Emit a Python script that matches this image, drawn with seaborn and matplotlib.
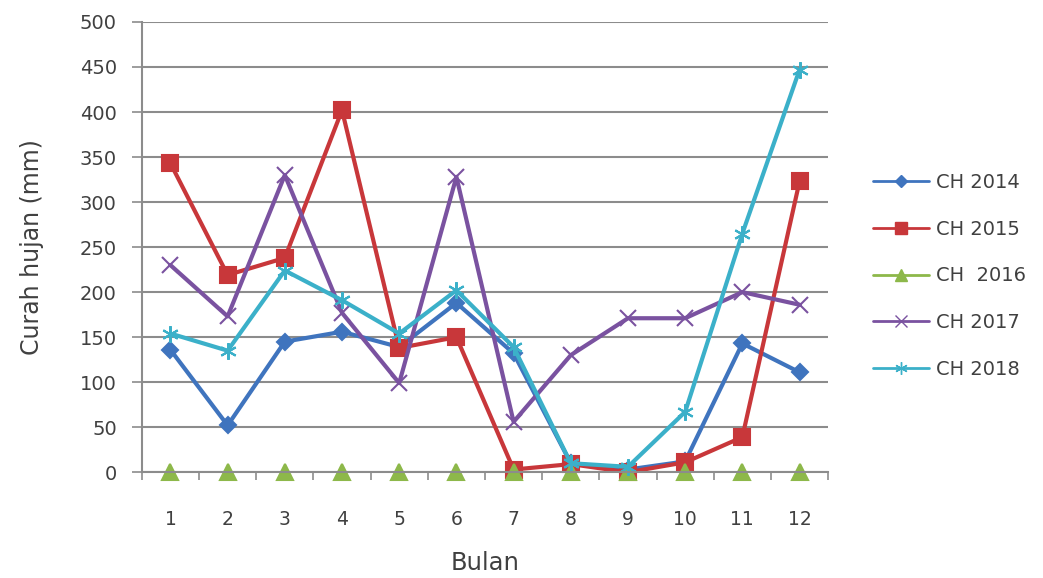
import matplotlib
matplotlib.use("Agg")
import matplotlib.pyplot as plt
import seaborn as sns
import pandas as pd
from matplotlib.lines import Line2D

months = [1, 2, 3, 4, 5, 6, 7, 8, 9, 10, 11, 12]
ch2014 = [136, 52, 145, 156, 139, 188, 132, 10, 3, 12, 143, 111]
ch2015 = [343, 219, 238, 402, 138, 150, 3, 9, 0, 11, 39, 323]
ch2016 = [0, 0, 0, 0, 0, 0, 0, 0, 0, 0, 0, 0]
ch2017 = [230, 173, 330, 177, 99, 328, 56, 130, 171, 171, 200, 186]
ch2018 = [154, 135, 224, 191, 154, 202, 139, 10, 6, 67, 265, 447]
series_names = ["CH 2014", "CH 2015", "CH  2016", "CH 2017", "CH 2018"]
yticks = [0, 50, 100, 150, 200, 250, 300, 350, 400, 450, 500]

sns.set_theme(style="white")
plt.rcParams['font.family'] = ['DejaVu Sans']

values = [ch2014, ch2015, ch2016, ch2017, ch2018]
colors = ["#3F74BE", "#C8373A", "#8DB84A", "#7A52A0", "#3BB0C9"]
markers = ["D", "s", "^", "x", (6, 2, 0)]
msizes = [8, 12, 11, 11, 12]
lwidths = [3, 3, 1.2, 3, 3]

rows = []
for name, vals in zip(series_names, values):
    for m, v in zip(months, vals):
        rows.append({"Bulan": m, "Curah": v, "Series": name})
df = pd.DataFrame(rows)

fig = plt.figure(figsize=(10.43, 5.78), dpi=100)
ax = fig.add_axes([0.136, 0.183, 0.658, 0.779])

handles = []
for name, c, mk, ms, lw in zip(series_names, colors, markers, msizes, lwidths):
    sub = df[df["Series"] == name]
    sns.lineplot(data=sub, x="Bulan", y="Curah", ax=ax, color=c, linewidth=lw,
                 marker=mk, markersize=ms, markeredgecolor=c, markerfacecolor=c,
                 markeredgewidth=1.5, legend=False)
    handles.append(Line2D([0], [0], color=c, lw=2, marker=mk,
                          markersize=ms * 0.75, markeredgecolor=c, markerfacecolor=c,
                          label=name))

ax.set_xlim(0.5, 12.5)
ax.set_ylim(0, 500)
ax.set_yticks(yticks)
ax.set_xticks(months)
ax.set_xticks([i + 0.5 for i in range(0, 13)], minor=True)
ax.grid(axis="y", color="#8C8C8C", linewidth=1.5)
ax.grid(axis="x", visible=False)
for s in ["top", "right"]:
    ax.spines[s].set_visible(False)
for s in ["left", "bottom"]:
    ax.spines[s].set_color("#8C8C8C")
    ax.spines[s].set_linewidth(1.5)
ax.tick_params(axis="y", which="major", length=7, width=1.2, color="#8C8C8C",
               labelsize=14, labelcolor="#404040", pad=11, left=True)
ax.tick_params(axis="x", which="major", length=0, labelsize=13.5,
               labelcolor="#404040", pad=27)
ax.tick_params(axis="x", which="minor", length=6, width=1.2, color="#8C8C8C",
               bottom=True)
ax.set_xlabel("Bulan", fontsize=17.5, color="#404040", labelpad=16)
ax.set_ylabel("Curah hujan (mm)", fontsize=17, color="#404040", labelpad=26)
ax.set_axisbelow(True)
for line in ax.lines:
    line.set_clip_on(False)

fig.legend(handles=handles, loc="center left", bbox_to_anchor=(873 / 1043, 0.5225),
           frameon=False, fontsize=14, labelspacing=1.43, handlelength=2.9,
           handletextpad=0.35, borderpad=0, borderaxespad=0, labelcolor="#404040")

fig.savefig("out.png", dpi=100)
